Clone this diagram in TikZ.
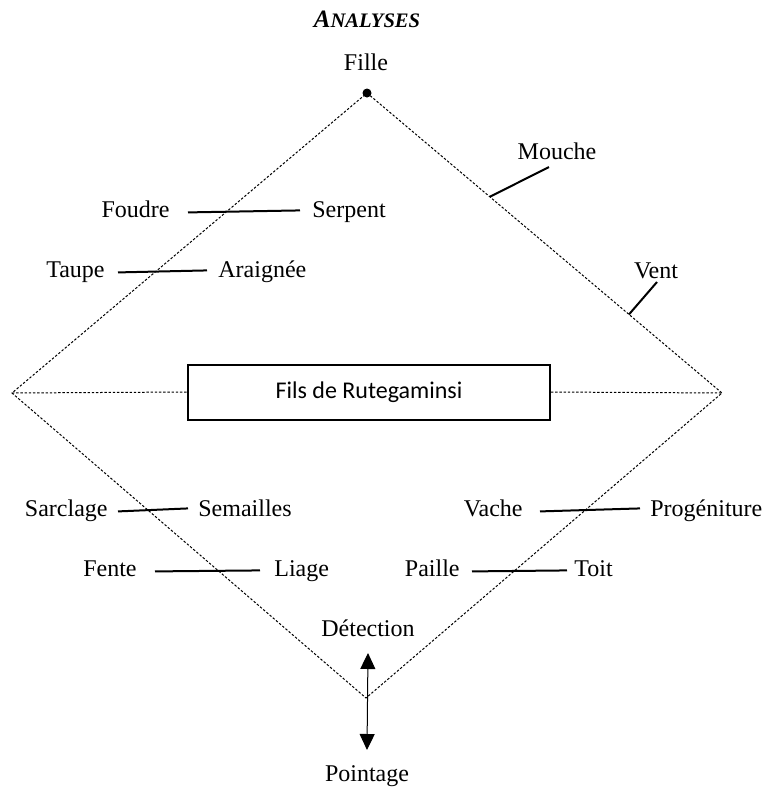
\documentclass[tikz,border=0pt]{standalone}
\usepackage{fontspec}
\setmainfont{Liberation Serif}
\newfontfamily\boxfont{Carlito}
\usetikzlibrary{arrows.meta,calc}

\begin{document}
\begin{tikzpicture}[x=0.5pt,y=-0.5pt,
  lab/.style={inner sep=0pt, font=\fontsize{12}{14}\selectfont},
  rim/.style={line width=0.5pt, dash pattern=on 1.2pt off 0.9pt},
  pair/.style={line width=1pt},
  tick/.style={line width=1pt},
  dblarrow/.style={line width=0.5pt, {Triangle[width=7.5pt,length=8pt]}-{Triangle[width=7.5pt,length=8pt]}}
  ]
\useasboundingbox (0,0) rectangle (767,789);

% title
\node[lab, anchor=base] (title) at (367,27)
  {\fontsize{12.5}{14}\selectfont\bfseries\itshape A{\fontsize{10.3}{12}\selectfont NALYSES}};

% corners of the square
\coordinate (top) at (367,93);
\coordinate (left) at (12,393);
\coordinate (right) at (722,393);
\coordinate (bottom) at (366,698);

\draw[rim] (top) -- (right) -- (bottom) -- (left) -- cycle;
\fill (top) circle[radius=4.5];

% central box
\node[draw, line width=1pt, minimum width=181pt, minimum height=27.5pt, inner sep=0pt,
      fill=white, font=\boxfont\fontsize{12}{14}\selectfont] (fils) at (369,392) {Fils de Rutegaminsi};
\draw[rim] (left) -- (fils.west);
\draw[rim] (fils.east) -- (right);

% top and bottom labels
\node[lab, anchor=base] (fille) at (366,70) {Fille};
\node[lab, anchor=base] (detection) at (368,636) {Détection};
\node[lab, anchor=base] (pointage) at (367,781) {Pointage};
\draw[dblarrow] ([shift={(0,17)}]detection.base) -- ([shift={(0,-31)}]pointage.base);

% labels on the upper right edge
\node[lab, anchor=base] (mouche) at (557,159) {Mouche};
\node[lab, anchor=base] (vent) at (656,278) {Vent};
\coordinate (mfoot) at ($(top)!0.346!(right)$);
\coordinate (vfoot) at ($(top)!0.738!(right)$);
\draw[tick] (mfoot) -- ([shift={(-8,8)}]mouche.base);
\draw[tick] (vfoot) -- ([shift={(1,4)}]vent.base);

% pairs across the upper left edge
\node[lab, anchor=base east] (foudre) at (170,217) {Foudre};
\node[lab, anchor=base west] (serpent) at (312,217) {Serpent};
\draw[pair] ([shift={(18,0)}]foudre.mid east) -- ([shift={(-12,-2)}]serpent.mid west);

\node[lab, anchor=base east] (taupe) at (105,277) {Taupe};
\node[lab, anchor=base west] (araignee) at (218,277) {Araignée};
\draw[pair] ([shift={(13,0)}]taupe.mid east) -- ([shift={(-11,-2)}]araignee.mid west);

% pairs across the lower left edge
\node[lab, anchor=base east] (sarclage) at (108,516) {Sarclage};
\node[lab, anchor=base west] (semailles) at (198,516) {Semailles};
\draw[pair] ([shift={(10,0)}]sarclage.mid east) -- ([shift={(-10,-3)}]semailles.mid west);

\node[lab, anchor=base east] (fente) at (137,576) {Fente};
\node[lab, anchor=base west] (liage) at (274,576) {Liage};
\draw[pair] ([shift={(18,0)}]fente.mid east) -- ([shift={(-14,-1)}]liage.mid west);

% pairs across the lower right edge
\node[lab, anchor=base east] (vache) at (523,516) {Vache};
\node[lab, anchor=base west] (progeniture) at (650,516) {Progéniture};
\draw[pair] ([shift={(17,0)}]vache.mid east) -- ([shift={(-10,-3)}]progeniture.mid west);

\node[lab, anchor=base east] (paille) at (460,576) {Paille};
\node[lab, anchor=base west] (toit) at (574,576) {Toit};
\draw[pair] ([shift={(12,0)}]paille.mid east) -- ([shift={(-7,-1)}]toit.mid west);
\end{tikzpicture}
\end{document}
